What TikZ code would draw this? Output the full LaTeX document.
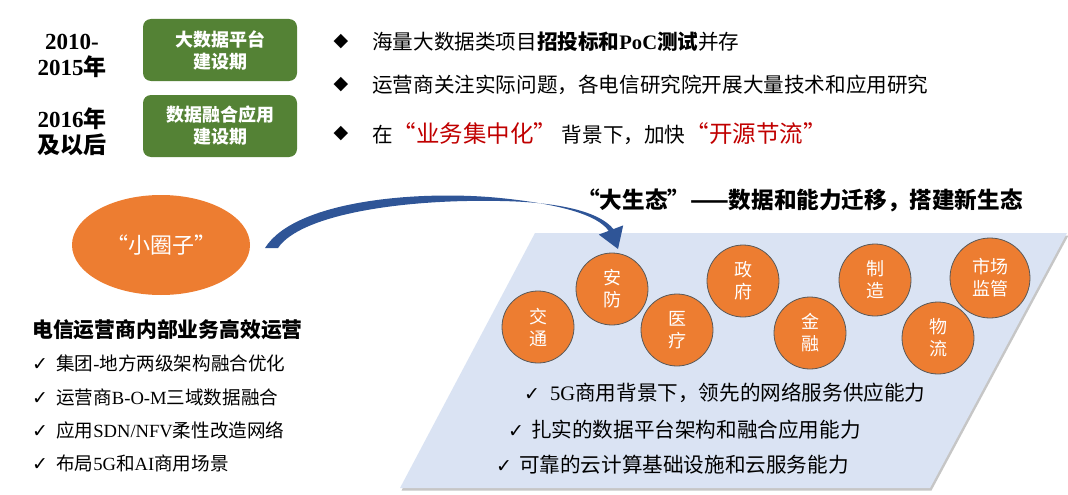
\documentclass[tikz,border=0pt]{standalone}
\usepackage{fontspec}
\setmainfont{Noto Sans CJK SC}
\newfontfamily\latinfont{Liberation Serif}
\newfontfamily\dejavu{DejaVu Sans}
\usepackage{xcolor}
\usepackage{tikz}
\usetikzlibrary{shapes.geometric, positioning, shadows}
\definecolor{phasegreen}{HTML}{548235}
\definecolor{ecoorange}{HTML}{ED7D31}
\definecolor{ecoblue}{HTML}{DAE3F3}
\definecolor{arrowblue}{HTML}{2F5597}
\definecolor{keyred}{HTML}{C00000}
\definecolor{ringgray}{HTML}{595959}
\newcommand\fsz[2]{\fontsize{#1pt}{#2pt}\selectfont}
\newcommand\chk{{\dejavu\fsz{19}{22}✓}}

\begin{document}
\begin{tikzpicture}[
    x=1pt, y=-1pt,
    yearlabel/.style={align=center, font=\fsz{23}{26}\bfseries, text=black},
    phasebox/.style={rectangle, fill=phasegreen, rounded corners=8pt, minimum width=154pt, minimum height=62pt, align=center, text=white, font=\fsz{18}{22}\bfseries},
    bulletmark/.style={inner sep=0pt, font=\dejavu\fsz{19}{22}},
    bullettext/.style={anchor=west, inner sep=0pt, font=\fsz{20.6}{24}},
    checkitem/.style={anchor=west, inner sep=0pt, font=\fsz{18.6}{22}},
    ecocheck/.style={anchor=west, inner sep=0pt, font=\fsz{20.6}{24}},
    ecocircle/.style={circle, fill=ecoorange, draw=ringgray, line width=0.8pt, minimum size=72pt, inner sep=0pt, align=center, text=white, font=\fsz{18}{22}}
]
\useasboundingbox (0,0) rectangle (1068,495);

% Phases
\node[yearlabel] (year1) at (72,56) {{\latinfont 2010-}\\{\latinfont 2015}年};
\node[yearlabel] (year2) at (72,132) {{\latinfont 2016}年\\及以后};
\node[phasebox] (phase1) at (220,50) {大数据平台\\建设期};
\node[phasebox] (phase2) at (220,126) {数据融合应用\\建设期};

% Bullets
\node[bulletmark] (mark1) at (341,42) {◆};
\node[bulletmark] (mark2) at (341,85) {◆};
\node[bulletmark] (mark3) at (341,134) {◆};
\node[bullettext] (line1) at (372,42) {海量大数据类项目\textbf{招投标和{\latinfont PoC}测试}并存};
\node[bullettext] (line2) at (372,85) {运营商关注实际问题，各电信研究院开展大量技术和应用研究};
\node[bullettext] (line3) at (372,134) {在{\color{keyred}\fsz{23.5}{26}“业务集中化”}\ 背景下，加快{\color{keyred}\fsz{23.5}{26}“开源节流”}};

% Small circle
\node[ellipse, fill=ecoorange, minimum width=178pt, minimum height=100pt, text=white, font=\fsz{22}{26}] (small) at (161,245) {“小圈子”};
\node[anchor=west, inner sep=0pt, font=\fsz{20.8}{24}\bfseries] (inner) at (32,330) {电信运营商内部业务高效运营};
\node[checkitem] (item1) at (32,363) {\chk\hspace{8pt}集团{\latinfont -}地方两级架构融合优化};
\node[checkitem] (item2) at (32,397) {\chk\hspace{8pt}运营商{\latinfont B-O-M}三域数据融合};
\node[checkitem] (item3) at (32,430) {\chk\hspace{8pt}应用{\latinfont SDN/NFV}柔性改造网络};
\node[checkitem] (item4) at (32,463) {\chk\hspace{8pt}布局{\latinfont 5G}和{\latinfont AI}商用场景};

% Big ecosystem
\fill[ecoblue, drop shadow={shadow xshift=1.5pt, shadow yshift=-2.5pt, opacity=0.45}] (535,233) -- (1067,233) -- (930,488) -- (400,488) -- cycle;
\node[font=\fsz{22.6}{26}\bfseries] (ecotitle) at (800,200) {“大生态”——数据和能力迁移，搭建新生态};

\node[ecocircle] (traffic) at (538,327) {交\\通};
\node[ecocircle] (security) at (612,289) {安\\防};
\node[ecocircle] (medical) at (677,330) {医\\疗};
\node[ecocircle] (gov) at (743,281) {政\\府};
\node[ecocircle] (finance) at (810,333) {金\\融};
\node[ecocircle] (manufacture) at (875,280) {制\\造};
\node[ecocircle] (logistics) at (938,338) {物\\流};
\node[ecocircle, minimum size=80pt] (market) at (990,278) {市场\\监管};

\node[ecocheck] (ability1) at (524,393) {\chk\hspace{10pt}{\latinfont 5G}商用背景下，领先的网络服务供应能力};
\node[ecocheck] (ability2) at (508,430) {\chk\hspace{7pt}扎实的数据平台架构和融合应用能力};
\node[ecocheck] (ability3) at (496,465) {\chk\hspace{7pt}可靠的云计算基础设施和云服务能力};

% Arrow
\fill[arrowblue] (265,248) .. controls (295,200) and (420,190) .. (500,198)
    .. controls (560,204) and (598,215) .. (608.6,230.9) -- (598.8,234.6) -- (618,249)
    -- (623.2,225.4) -- (613.4,229.1) .. controls (600,212) and (560,202) .. (500,201)
    .. controls (400,199) and (300,215) .. (278,248) -- cycle;

\end{tikzpicture}
\end{document}
